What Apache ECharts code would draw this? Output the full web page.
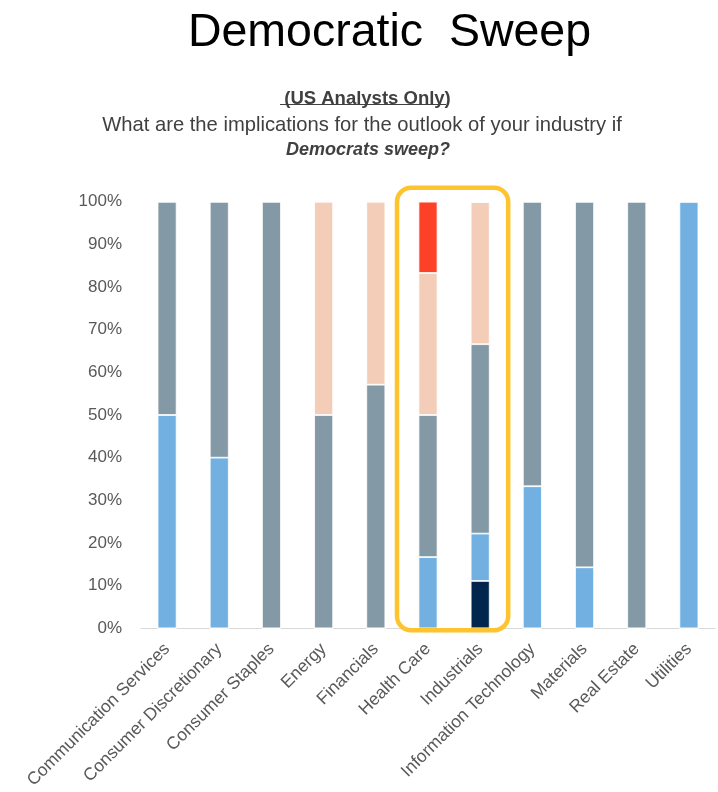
<!DOCTYPE html>
<html>
<head>
<meta charset="utf-8">
<script src="https://cdn.jsdelivr.net/npm/echarts@6/dist/echarts.min.js"></script>
<style>html,body{margin:0;padding:0;background:#fff;}#c{width:718px;height:792px;}</style>
</head>
<body>
<div id="c"></div>
<script>
const categories = ['Communication Services','Consumer Discretionary','Consumer Staples','Energy','Financials','Health Care','Industrials','Information Technology','Materials','Real Estate','Utilities'];
const veryPositive = [0,0,0,0,0,0,11.1,0,0,0,0];
const positive = [50,40,0,0,0,16.7,11.1,33.3,14.3,0,100];
const neutral = [50,60,100,50,57.1,33.3,44.4,66.7,85.7,100,0];
const negative = [0,0,0,50,42.9,33.3,33.3,0,0,0,0];
const veryNegative = [0,0,0,0,0,16.7,0,0,0,0,0];
const highlighted = ['Health Care','Industrials'];
const yTicks = [0,10,20,30,40,50,60,70,80,90,100];

const colors = ['#00264D','#72B0E2','#8499A6','#F4CDB9','#FC4127'];
const seriesData = [veryPositive, positive, neutral, negative, veryNegative];
const seriesNames = ['Very positive','Positive','Neutral','Negative','Very negative'];

const chart = echarts.init(document.getElementById('c'), null, {renderer:'canvas'});
const font = '"Liberation Sans", Arial, sans-serif';
const option = {
  animation: false,
  backgroundColor: '#fff',
  title: [
    {text: 'Democratic  Sweep', left: 384.5, textAlign: 'center', top: 5, textStyle: {fontFamily: font, fontSize: 46.5, fontWeight: 'normal', color: '#000'}},
    {text: '(US Analysts Only)', left: 362.5, textAlign: 'center', top: 84, textStyle: {fontFamily: font, fontSize: 18.5, fontWeight: 'bold', color: '#404040'}},
    {text: 'What are the implications for the outlook of your industry if', left: 357, textAlign: 'center', top: 110, textStyle: {fontFamily: font, fontSize: 20.2, fontWeight: 'normal', color: '#404040'}},
    {text: 'Democrats sweep?', left: 363, textAlign: 'center', top: 136, textStyle: {fontFamily: font, fontSize: 18, fontWeight: 'bold', fontStyle: 'italic', color: '#404040'}}
  ],
  grid: {left: 141, right: 3, top: 201.7, bottom: 163.7, containLabel: false},
  xAxis: {
    type: 'category', data: categories,
    axisLine: {lineStyle: {color: '#d9d9d9', width: 1}},
    axisTick: {show: false},
    axisLabel: {interval: 0, rotate: 45, fontFamily: font, fontSize: 17.5, color: '#595959', margin: 18}
  },
  yAxis: {
    type: 'value', min: 0, max: 100, interval: 10,
    axisLine: {show: false}, axisTick: {show: false}, splitLine: {show: false},
    axisLabel: {formatter: v => yTicks.includes(v) ? v + '%' : '', fontFamily: font, fontSize: 17, color: '#595959', margin: 19}
  },
  series: seriesData.map((d, i) => ({
    name: seriesNames[i], type: 'bar', stack: 'total', data: d, barWidth: 19,
    itemStyle: {color: colors[i], borderColor: '#fff', borderWidth: 0.8}
  }))
};
chart.setOption(option);

// Underline for "(US Analysts Only)" and highlight box around highlighted categories
const p0 = chart.convertToPixel({xAxisIndex:0, yAxisIndex:0}, [highlighted[0], 100]);
const p1 = chart.convertToPixel({xAxisIndex:0, yAxisIndex:0}, [highlighted[1], 0]);
chart.setOption({
  graphic: [
    {type: 'line', shape: {x1: 280, y1: 104.5, x2: 446, y2: 104.5}, style: {stroke: '#404040', lineWidth: 1.2}},
    {type: 'rect', shape: {x: p0[0] - 31, y: p0[1] - 14, width: (p1[0] - p0[0]) + 59, height: (p1[1] - p0[1]) + 16, r: 14},
     style: {fill: 'none', stroke: '#FFC32E', lineWidth: 4.5}, z: 10}
  ]
});
</script>
</body>
</html>
